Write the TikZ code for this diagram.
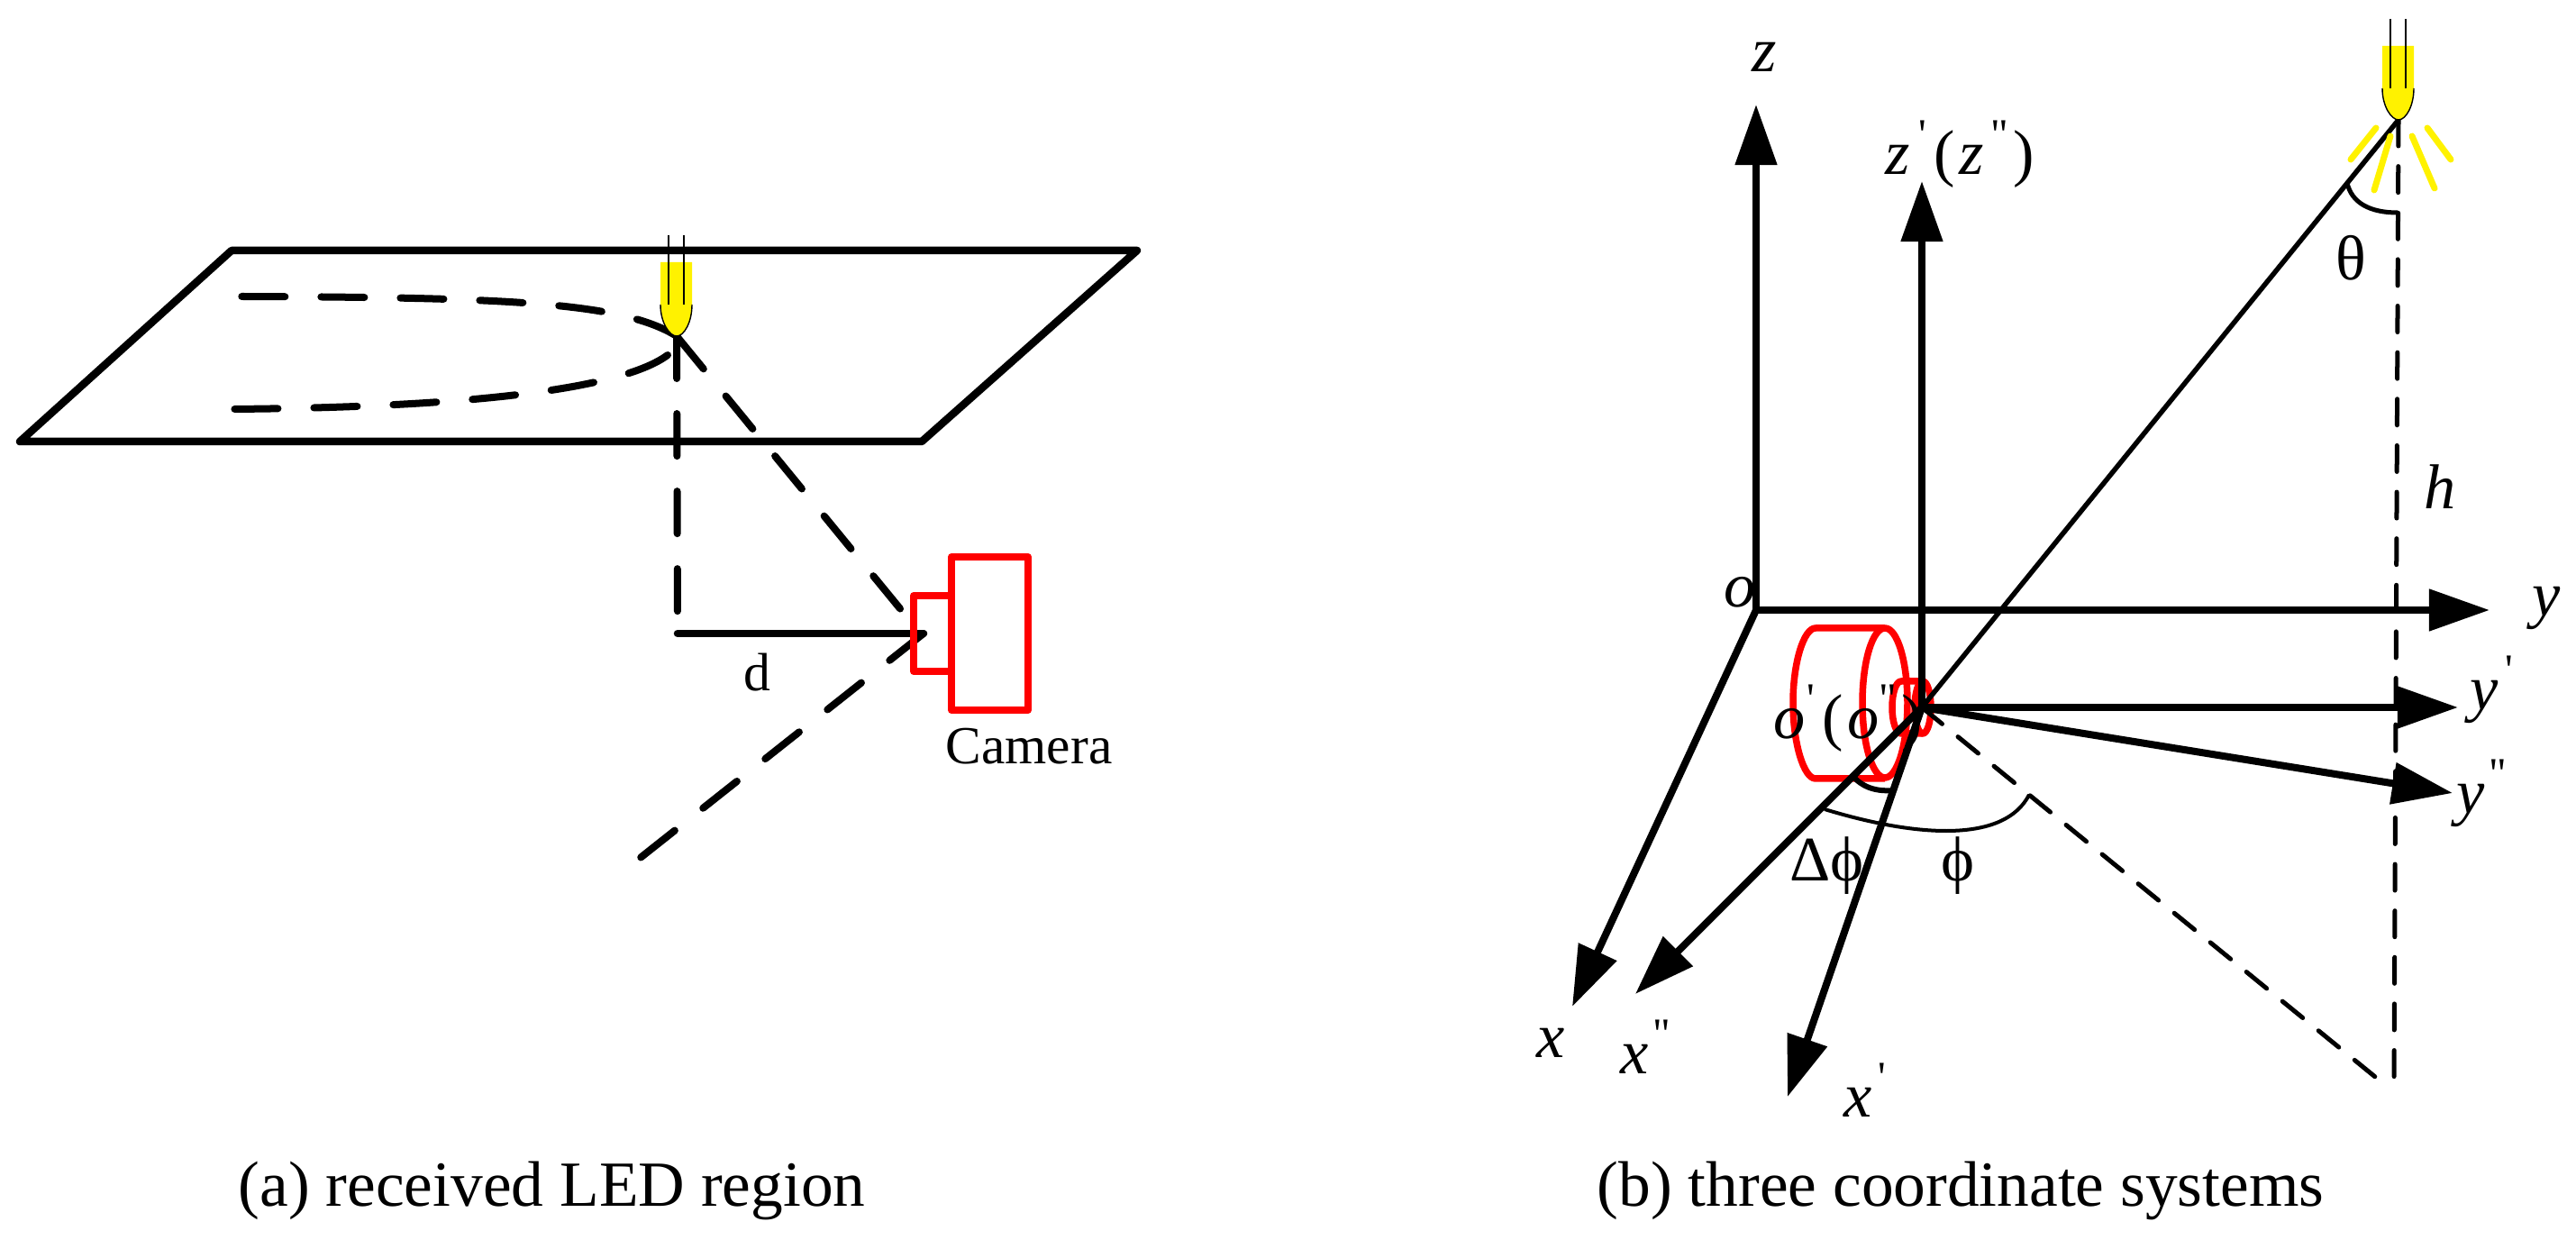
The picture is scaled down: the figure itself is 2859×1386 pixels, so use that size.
\documentclass[tikz,border=0pt]{standalone}
\usepackage{fontspec}
\setmainfont{Liberation Serif}
\newfontfamily\tickfamily{Liberation Serif}
\usepackage{tikz}
\usetikzlibrary{arrows.meta}
\usetikzlibrary{positioning}

\newcommand{\tickfont}{\fontsize{13.7pt}{14pt}\selectfont\tickfamily\upshape}
\newcommand{\onetick}{\raisebox{8pt}{\tickfont\symbol{39}}}
\newcommand{\twotick}{\raisebox{8pt}{\tickfont\symbol{34}}}
\newcommand{\pairlabel}[1]{\makebox[7.7pt][l]{\textit{#1}}\kern2.8pt\onetick\kern2.4pt(\kern1.1pt\makebox[7.7pt][l]{\textit{#1}}\kern2.3pt\twotick\kern1.7pt)}
\newcommand{\ledlamp}[1]{%
  \begin{scope}[shift={(#1)}]
    \fill[yellow] (-18,-82) -- (17,-82) -- (17,-35) .. controls (17,-15) and (8,0) .. (0,0) .. controls (-8,0) and (-18,-15) .. (-18,-35) -- cycle;
    \draw[ledwire] (17,-35) .. controls (17,-15) and (8,0) .. (0,0) .. controls (-8,0) and (-18,-15) .. (-18,-35);
    \draw[ledwire] (-9,-112) -- (-9,-35);
    \draw[ledwire] (8,-112) -- (8,-35);
  \end{scope}}

\tikzset{
  ledwire/.style={line width=.014cm},
  thickline/.style={line width=.085cm, line join=round, line cap=round},
  dashline/.style={line width=.08cm, line cap=round, dash pattern=on .47cm off .39cm},
  longdash/.style={line width=.08cm, line cap=round, dash pattern=on .48cm off .40cm},
  thindash/.style={line width=.05cm, line cap=round, dash pattern=on .29cm off .226cm},
  axisarrow/.style={line width=.08cm, -{Triangle[length=.67cm,width=.45cm]}},
  redline/.style={red, line width=.075cm, line join=round},
  camerabox/.style={draw, red, line width=.08cm, line join=round, outer sep=0pt, inner sep=0pt},
  raytick/.style={yellow, line width=.07cm, line cap=round},
  labeltext/.style={anchor=base west, inner sep=0pt, font=\fontsize{20pt}{24pt}\selectfont},
  mathlabel/.style={labeltext, font=\fontsize{20pt}{24pt}\selectfont\itshape},
}

\begin{document}
\begin{tikzpicture}[x=.01cm, y=-.01cm]
\useasboundingbox (0,0) rectangle (2859,1386);
% (a) plane and light
\coordinate (planeA) at (257,278);
\coordinate (planeB) at (1262,278);
\coordinate (planeC) at (1023,490);
\coordinate (planeD) at (22,490);
\draw[thickline] (planeA) -- (planeB) -- (planeC) -- (planeD) -- cycle;
\coordinate (ledtip) at (751,373);
\coordinate (foot) at (752,703);
\coordinate (seat) at (1025,703);
\coordinate (seatup) at (1006,684);
\coordinate (farend) at (708,954);
\coordinate (upperend) at (267,329);
\coordinate (lowerstart) at (741,394);
\coordinate (lowerend) at (258,454);
\draw[longdash] (ledtip) .. controls (690,335) and (560,330) .. (upperend);
\draw[longdash] (lowerstart) .. controls (690,432) and (520,452) .. (lowerend);
\draw[dashline] (ledtip) -- (foot);
\draw[dashline] (ledtip) -- (seatup);
\draw[longdash] (seat) -- (farend);
\draw[thickline] (foot) -- (seat);
\ledlamp{751,373}
% camera
\node[camerabox, minimum width=.85cm, minimum height=1.70cm] (body) at (1098.5,703) {};
\node[camerabox, minimum width=.42cm, minimum height=.84cm, left=0cm of body] (lens) {};
\node[labeltext, font=\fontsize{16.9pt}{20pt}\selectfont] (cameralabel) at (1049,848) {Camera};
\node[labeltext, font=\fontsize{17pt}{20pt}\selectfont] (dlabel) at (825,767) {d};
% (b) red cylinders
\draw[redline] (2092,780) ellipse (25 and 83);
\draw[redline] (2092,697) -- (2015,697) .. controls (2002,697) and (1990,735) .. (1990,780) .. controls (1990,825) and (2002,864) .. (2015,864) -- (2092,864);
\draw[redline] (2134,785) ellipse (9 and 29);
\draw[redline] (2134,756) -- (2110,756) .. controls (2104,756) and (2100,770) .. (2100,785) .. controls (2100,800) and (2104,814) .. (2110,814) -- (2134,814);
% (b) axes
\coordinate (origin) at (1949,677);
\coordinate (originb) at (2133,785);
\coordinate (ztip) at (1949,116);
\coordinate (zbtip) at (2133,201);
\coordinate (ytip) at (2763,677);
\coordinate (ybtip) at (2728,785);
\coordinate (yctip) at (2722,880);
\coordinate (xtip) at (1745,1117);
\coordinate (xbtip) at (1984,1217);
\coordinate (xctip) at (1815,1103);
\coordinate (ledb) at (2662,133);
\coordinate (ledfoot) at (2657,1212);
\coordinate (groundend) at (2641,1199);
\draw[thindash] (ledb) -- (ledfoot);
\draw[thindash] (originb) -- (groundend);
\draw[axisarrow] (origin) -- (ztip);
\draw[axisarrow] (origin) -- (ytip);
\draw[axisarrow] (origin) -- (xtip);
\draw[axisarrow] (originb) -- (zbtip);
\draw[axisarrow] (originb) -- (ybtip);
\draw[axisarrow] (originb) -- (yctip);
\draw[axisarrow] (originb) -- (xbtip);
\draw[axisarrow] (originb) -- (xctip);
\draw[line width=.055cm] (originb) -- (ledb);
% angle marks
\draw[line width=.05cm] (2605,203) .. controls (2610,225) and (2630,236) .. (2661,236);
\draw[line width=.06cm] (2057,862) .. controls (2066,872) and (2080,879) .. (2102,877);
\draw[line width=.04cm] (2025,898) .. controls (2130,930) and (2225,935) .. (2252,882);
% lamp with rays
\ledlamp{2662,133}
\draw[raytick] (2637,142) -- (2609,177);
\draw[raytick] (2653,151) -- (2635,211);
\draw[raytick] (2677,151) -- (2702,209);
\draw[raytick] (2694,142) -- (2720,177);
% labels
\node[mathlabel] (zlabel) at (1944,80) {z};
\node[labeltext] (zblabel) at (2092,194) {\pairlabel{z}};
\node[mathlabel] (olabel) at (1913,674) {o};
\node[labeltext] (oblabel) at (1968,820) {\pairlabel{o}};
\node[mathlabel] (ylabel) at (2810,684) {y};
\node[labeltext] (yblabel) at (2741,788) {\textit{y}\kern2pt\onetick};
\node[labeltext] (yclabel) at (2726,903) {\textit{y}\kern1.4pt\twotick};
\node[mathlabel] (xlabel) at (1705,1174) {x};
\node[labeltext] (xclabel) at (1798,1192) {\textit{x}\kern1.4pt\twotick};
\node[labeltext] (xblabel) at (2046,1240) {\textit{x}\kern2pt\onetick};
\node[mathlabel] (hlabel) at (2690,565) {h};
\node[labeltext] (thetalabel) at (2592,311) {\symbol{"03B8}};
\node[labeltext] (dphilabel) at (1986,978) {\symbol{"0394}\symbol{"03D5}};
\node[labeltext] (philabel) at (2154,978) {\symbol{"03D5}};
% captions
\node[labeltext, font=\fontsize{20.3pt}{24pt}\selectfont] (captiona) at (264,1339) {(a) received LED region};
\node[labeltext, font=\fontsize{20.3pt}{24pt}\selectfont] (captionb) at (1772,1339) {(b) three coordinate systems};
\end{tikzpicture}
\end{document}
